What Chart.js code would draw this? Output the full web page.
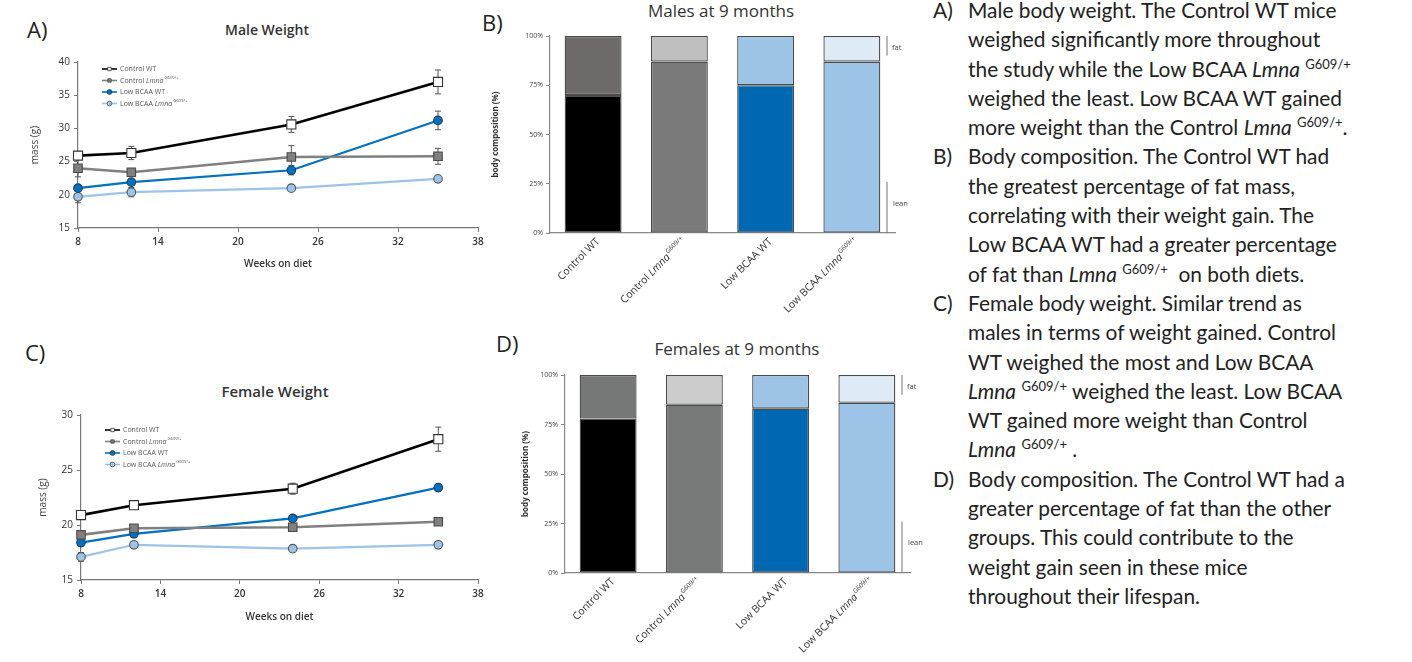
<!DOCTYPE html>
<html><head><meta charset="utf-8">
<script src="https://cdn.jsdelivr.net/npm/chart.js@4.4.0/dist/chart.umd.min.js"></script>
<style>
html,body{margin:0;padding:0;background:#fff;width:1412px;height:662px;overflow:hidden;position:relative;font-family:'Open Sans',sans-serif;}
canvas{position:absolute;}
.plab{position:absolute;font-family:'Open Sans',sans-serif;font-size:22px;color:#222;line-height:1;}
.ttl{position:absolute;transform:translate(-50%,-50%);white-space:nowrap;color:#333;}
.txt{position:absolute;left:933px;top:-5px;font-family:Lato,sans-serif;font-size:20.9px;line-height:29.3px;color:#222;}
.ln{position:relative;padding-left:35px;white-space:nowrap;height:29.3px;}
.lt{position:absolute;left:0;top:0;}
sup{font-size:13px;position:relative;top:-8px;vertical-align:baseline;line-height:0;}
</style></head>
<body>
<div class="plab" style="left:27px;top:18px;">A)</div>
<div class="plab" style="left:482px;top:11px;">B)</div>
<div class="plab" style="left:25px;top:341px;">C)</div>
<div class="plab" style="left:496px;top:332px;">D)</div>

<div class="ttl" style="left:267px;top:29px;font-size:14px;font-weight:600;font-family:'Open Sans';">Male Weight</div>
<div class="ttl" style="left:275px;top:391px;font-size:15px;font-weight:600;font-family:'Open Sans';">Female Weight</div>
<div class="ttl" style="left:721px;top:10px;font-size:17px;font-family:'Open Sans';">Males at 9 months</div>
<div class="ttl" style="left:737px;top:348px;font-size:17px;font-family:'Open Sans';">Females at 9 months</div>

<canvas id="cA" width="490" height="240" style="left:0;top:40px;"></canvas>
<canvas id="cC" width="490" height="230" style="left:0;top:395px;"></canvas>
<canvas id="cB" width="440" height="312" style="left:480px;top:18px;"></canvas>
<canvas id="cD" width="440" height="307" style="left:490px;top:355px;"></canvas>

<div class="txt">
<div class="ln"><span class="lt">A)</span>Male body weight. The Control WT mice</div>
<div class="ln">weighed significantly more throughout</div>
<div class="ln">the study while the Low BCAA <i>Lmna</i> <sup>G609/+</sup></div>
<div class="ln">weighed the least. Low BCAA WT gained</div>
<div class="ln">more weight than the Control <i>Lmna</i> <sup>G609/+</sup>.</div>
<div class="ln"><span class="lt">B)</span>Body composition. The Control WT had</div>
<div class="ln">the greatest percentage of fat mass,</div>
<div class="ln">correlating with their weight gain. The</div>
<div class="ln">Low BCAA WT had a greater percentage</div>
<div class="ln">of fat than <i>Lmna</i> <sup>G609/+</sup>&nbsp; on both diets.</div>
<div class="ln"><span class="lt">C)</span>Female body weight. Similar trend as</div>
<div class="ln">males in terms of weight gained. Control</div>
<div class="ln">WT weighed the most and Low BCAA</div>
<div class="ln"><i>Lmna</i> <sup>G609/+</sup> weighed the least. Low BCAA</div>
<div class="ln">WT gained more weight than Control</div>
<div class="ln"><i>Lmna</i> <sup>G609/+</sup> .</div>
<div class="ln"><span class="lt">D)</span>Body composition. The Control WT had a</div>
<div class="ln">greater percentage of fat than the other</div>
<div class="ln">groups. This could contribute to the</div>
<div class="ln">weight gain seen in these mice</div>
<div class="ln">throughout their lifespan.</div>
</div>

<script>
// ---------- DATA ----------
const weeks = [8, 12, 24, 35];
const seriesNames = ['Control WT', 'Control Lmna', 'Low BCAA WT', 'Low BCAA Lmna'];
const seriesSup = ['', 'G609/+', '', 'G609/+'];
const xTicks = [8, 14, 20, 26, 32, 38];

// Male weight (g)
const maleControlWT = [25.9, 26.3, 30.6, 37.0];
const maleControlLmna = [24.0, 23.4, 25.7, 25.8];
const maleLowWT = [21.0, 21.9, 23.7, 31.2];
const maleLowLmna = [19.7, 20.4, 21.0, 22.4];
const maleControlWTErr = [0.6, 1.0, 1.2, 1.8];
const maleControlLmnaErr = [1.3, 0.4, 1.7, 1.2];
const maleLowWTErr = [0.5, 0.5, 0.7, 1.4];
const maleLowLmnaErr = [0.9, 0.7, 0.5, 0.4];

// Female weight (g)
const femaleControlWT = [20.9, 21.8, 23.3, 27.8];
const femaleControlLmna = [19.1, 19.7, 19.8, 20.3];
const femaleLowWT = [18.4, 19.2, 20.6, 23.4];
const femaleLowLmna = [17.1, 18.2, 17.85, 18.2];
const femaleControlWTErr = [0.3, 0.3, 0.5, 1.1];
const femaleControlLmnaErr = [0.3, 0.3, 0.3, 0.3];
const femaleLowWTErr = [0.3, 0.3, 0.3, 0.3];
const femaleLowLmnaErr = [0.4, 0.3, 0.3, 0.3];

// Body composition (%)
const categories = ['Control WT', 'Control Lmna', 'Low BCAA WT', 'Low BCAA Lmna'];
const categorySup = ['', 'G609/+', '', 'G609/+'];
const maleLean = [70, 87, 75, 87];
const maleFat = [30, 13, 25, 13];
const femaleLean = [78, 85, 83, 86];
const femaleFat = [22, 15, 17, 14];
const pctTicks = [0, 25, 50, 75, 100];
const fatRange = [90, 100];
const leanRange = [0, 26];

// ---------- HELPERS ----------
const FAM = "'Open Sans', sans-serif";
Chart.defaults.font.family = FAM;
Chart.defaults.color = '#333';

function richParts(name, sup){
  const parts = [];
  name.split(/(Lmna)/).forEach(s => { if (s) parts.push({t: s, it: s === 'Lmna'}); });
  if (sup) parts.push({t: sup, sup: true});
  return parts;
}
function fontFor(p, size){
  const s = p.sup ? size * 0.6 : size;
  return (p.it ? 'italic ' : '') + s + 'px ' + FAM;
}
function measureRich(ctx, parts, size){
  let w = 0;
  parts.forEach(p => { ctx.font = fontFor(p, size); w += ctx.measureText(p.t).width + (p.sup ? 1 : 0); });
  return w;
}
function drawRich(ctx, parts, x, y, size, color){
  ctx.save();
  ctx.fillStyle = color; ctx.textBaseline = 'middle'; ctx.textAlign = 'left';
  let cx = x;
  parts.forEach(p => {
    ctx.font = fontFor(p, size);
    const off = p.sup ? 1 : 0;
    ctx.fillText(p.t, cx + off, p.sup ? y - size * 0.35 : y);
    cx += ctx.measureText(p.t).width + off;
  });
  ctx.restore();
}
function drawMarker(ctx, style, x, y, r, fill, stroke, lw){
  ctx.save();
  ctx.fillStyle = fill; ctx.strokeStyle = stroke; ctx.lineWidth = lw;
  ctx.beginPath();
  if (style === 'rect') { const s = r * Math.SQRT1_2; ctx.rect(x - s, y - s, 2 * s, 2 * s); }
  else ctx.arc(x, y, r, 0, Math.PI * 2);
  ctx.fill(); ctx.stroke();
  ctx.restore();
}

const errorBars = {
  id: 'errorBars',
  beforeDatasetsDraw(chart){
    const {ctx} = chart; const xs = chart.scales.x, ys = chart.scales.y;
    chart.data.datasets.forEach(ds => {
      if (!ds.err) return;
      ds.data.forEach((pt, j) => {
        const x = xs.getPixelForValue(pt.x);
        const yt = ys.getPixelForValue(pt.y + ds.err[j]);
        const yb = ys.getPixelForValue(pt.y - ds.err[j]);
        ctx.save(); ctx.strokeStyle = '#555'; ctx.lineWidth = 1;
        ctx.beginPath();
        ctx.moveTo(x, yt); ctx.lineTo(x, yb);
        ctx.moveTo(x - 3, yt); ctx.lineTo(x + 3, yt);
        ctx.moveTo(x - 3, yb); ctx.lineTo(x + 3, yb);
        ctx.stroke(); ctx.restore();
      });
    });
  }
};

const innerLegend = {
  id: 'innerLegend',
  afterDraw(chart, args, opts){
    if (!opts || opts.left === undefined) return;
    const {ctx, chartArea} = chart;
    chart.data.datasets.forEach((ds, i) => {
      const y = chartArea.top + opts.top + i * opts.dy;
      const x0 = chartArea.left + opts.left;
      ctx.save(); ctx.strokeStyle = ds.borderColor; ctx.lineWidth = 1.6;
      ctx.beginPath(); ctx.moveTo(x0, y); ctx.lineTo(x0 + 15, y); ctx.stroke(); ctx.restore();
      drawMarker(ctx, ds.pointStyle, x0 + 7.5, y, 2.4, ds.pointBackgroundColor, ds.pointBorderColor, 0.8);
      drawRich(ctx, richParts(ds.label, ds.sup), x0 + 18, y, 7, '#555');
    });
  }
};

const barLabels = {
  id: 'barLabels',
  afterDraw(chart, args, opts){
    if (!opts || !opts.sups) return;
    const {ctx, chartArea} = chart; const xs = chart.scales.x;
    chart.data.labels.forEach((lab, i) => {
      const parts = richParts(lab, opts.sups[i]);
      const x = xs.getPixelForValue(i) + opts.dx, y = chartArea.bottom + opts.dy;
      ctx.save(); ctx.translate(x, y); ctx.rotate(-Math.PI / 4);
      const w = measureRich(ctx, parts, opts.size);
      drawRich(ctx, parts, -w, 0, opts.size, '#333');
      ctx.restore();
    });
  }
};

const brackets = {
  id: 'brackets',
  afterDraw(chart, args, opts){
    if (!opts || opts.dx === undefined) return;
    const {ctx, chartArea} = chart; const ys = chart.scales.y;
    const x = chartArea.right + opts.dx;
    ctx.save(); ctx.strokeStyle = '#777'; ctx.lineWidth = 1;
    ctx.beginPath();
    ctx.moveTo(x, ys.getPixelForValue(fatRange[1])); ctx.lineTo(x, ys.getPixelForValue(fatRange[0]));
    ctx.moveTo(x, ys.getPixelForValue(leanRange[1])); ctx.lineTo(x, ys.getPixelForValue(leanRange[0]));
    ctx.stroke();
    ctx.fillStyle = '#444'; ctx.font = '7.5px ' + FAM; ctx.textBaseline = 'middle'; ctx.textAlign = 'left';
    ctx.fillText('fat', x + 5, ys.getPixelForValue((fatRange[0] + fatRange[1]) / 2 - 1));
    ctx.fillText('lean', x + 6, ys.getPixelForValue(15));
    ctx.restore();
  }
};

// ---------- LINE CHARTS ----------
const lineStyles = [
  {borderColor: '#000000', pointStyle: 'rect', pointRadius: 6.4, pointBackgroundColor: '#ffffff', pointBorderColor: '#333333'},
  {borderColor: '#808080', pointStyle: 'rect', pointRadius: 6.0, pointBackgroundColor: '#808080', pointBorderColor: '#4a4a4a'},
  {borderColor: '#0070c0', pointStyle: 'circle', pointRadius: 4.3, pointBackgroundColor: '#0070c0', pointBorderColor: '#253b55'},
  {borderColor: '#9dc3e6', pointStyle: 'circle', pointRadius: 4.3, pointBackgroundColor: '#9dc3e6', pointBorderColor: '#555555'}
];

function makeLine(id, values, errs, cfg){
  const datasets = values.map((vals, k) => Object.assign({
    label: seriesNames[k], sup: seriesSup[k],
    data: weeks.map((w, j) => ({x: w, y: vals[j]})),
    err: errs[k],
    borderWidth: k < 2 ? 2.6 : 2.2,
    pointBorderWidth: 1.1,
    tension: 0, clip: false, fill: false
  }, lineStyles[k]));
  new Chart(document.getElementById(id), {
    type: 'line',
    data: {datasets},
    plugins: [errorBars, innerLegend],
    options: {
      responsive: false, animation: false, devicePixelRatio: 1,
      layout: {padding: {left: 0, top: cfg.top, right: 12, bottom: 0}},
      plugins: {
        legend: {display: false}, tooltip: {enabled: false}, title: {display: false},
        innerLegend: {left: 24, top: cfg.legTop, dy: 11.5}
      },
      scales: {
        x: {
          type: 'linear', min: xTicks[0], max: xTicks[xTicks.length - 1],
          afterBuildTicks: s => { s.ticks = xTicks.map(v => ({value: v})); },
          ticks: {font: {size: 10, weight: '600'}, color: '#333', padding: 4},
          grid: {display: true, drawOnChartArea: false, drawTicks: true, tickLength: 4, color: '#777'},
          border: {color: '#777', width: 1.2},
          title: {display: true, text: 'Weeks on diet', font: {size: 10, weight: '600'}, color: '#333', padding: {top: 0, bottom: cfg.xTitlePad}},
          afterFit: s => { s.height = cfg.xH; }
        },
        y: {
          min: cfg.yTicks[0], max: cfg.yTicks[cfg.yTicks.length - 1],
          afterBuildTicks: s => { s.ticks = cfg.yTicks.map(v => ({value: v})); },
          ticks: {font: {size: 10}, color: '#333', padding: 4},
          grid: {display: true, drawOnChartArea: false, drawTicks: true, tickLength: 4, color: '#777'},
          border: {color: '#777', width: 1.2},
          title: {display: true, text: 'mass (g)', font: {size: 10}, color: '#444', padding: {top: cfg.yTitlePad, bottom: 0}},
          afterFit: s => { s.width = cfg.yW; }
        }
      }
    }
  });
}

const maleYTicks = [15, 20, 25, 30, 35, 40];
const femaleYTicks = [15, 20, 25, 30];

makeLine('cA',
  [maleControlWT, maleControlLmna, maleLowWT, maleLowLmna],
  [maleControlWTErr, maleControlLmnaErr, maleLowWTErr, maleLowLmnaErr],
  {top: 22, xH: 52, yW: 78, xTitlePad: 10, yTitlePad: 29, legTop: 7, yTicks: maleYTicks});

makeLine('cC',
  [femaleControlWT, femaleControlLmna, femaleLowWT, femaleLowLmna],
  [femaleControlWTErr, femaleControlLmnaErr, femaleLowWTErr, femaleLowLmnaErr],
  {top: 20, xH: 45, yW: 81, xTitlePad: 2, yTitlePad: 37, legTop: 15, yTicks: femaleYTicks});

// ---------- BAR CHARTS ----------
function makeBar(id, lean, fat, leanColors, fatColors, cfg){
  new Chart(document.getElementById(id), {
    type: 'bar',
    data: {
      labels: categories,
      datasets: [
        {label: 'lean', data: lean, backgroundColor: leanColors, borderColor: '#4a4a4a', borderWidth: 1.3, borderSkipped: false},
        {label: 'fat', data: fat, backgroundColor: fatColors, borderColor: '#4a4a4a', borderWidth: 1.3, borderSkipped: false}
      ]
    },
    plugins: [barLabels, brackets],
    options: {
      responsive: false, animation: false, devicePixelRatio: 1,
      layout: {padding: {left: 0, top: cfg.top, right: cfg.right, bottom: 0}},
      datasets: {bar: {categoryPercentage: 1, barPercentage: 0.66}},
      plugins: {
        legend: {display: false}, tooltip: {enabled: false}, title: {display: false},
        barLabels: {sups: categorySup, dx: 5, dy: 7, size: 10.5},
        brackets: {dx: -8}
      },
      scales: {
        x: {
          stacked: true,
          grid: {display: false},
          ticks: {display: false},
          border: {color: '#888', width: 1.2},
          afterFit: s => { s.height = cfg.xH; }
        },
        y: {
          stacked: true, min: 0, max: 100,
          afterBuildTicks: s => { s.ticks = pctTicks.map(v => ({value: v})); },
          ticks: {font: {size: 7}, color: '#444', padding: 3, callback: v => v + '%'},
          grid: {display: true, drawOnChartArea: false, drawTicks: true, tickLength: 4, color: '#888'},
          border: {color: '#888', width: 1.2},
          title: {display: true, text: 'body composition (%)', font: {size: 8, weight: 'bold'}, color: '#333', padding: {top: cfg.yTitlePad, bottom: 0}},
          afterFit: s => { s.width = cfg.yW; }
        }
      }
    }
  });
}

makeBar('cB', maleLean, maleFat,
  ['#000000', '#7a7a7a', '#0068b3', '#9dc3e6'],
  ['#6e6a6a', '#bfbfbf', '#9dc3e6', '#deebf7'],
  {top: 18, right: 25, xH: 97, yW: 70, yTitlePad: 10.5});

makeBar('cD', femaleLean, femaleFat,
  ['#000000', '#777878', '#0068b3', '#9dc3e6'],
  ['#767777', '#cdcccc', '#9dc3e6', '#deebf7'],
  {top: 20, right: 20, xH: 89, yW: 75, yTitlePad: 30.5});
</script>
</body></html>
